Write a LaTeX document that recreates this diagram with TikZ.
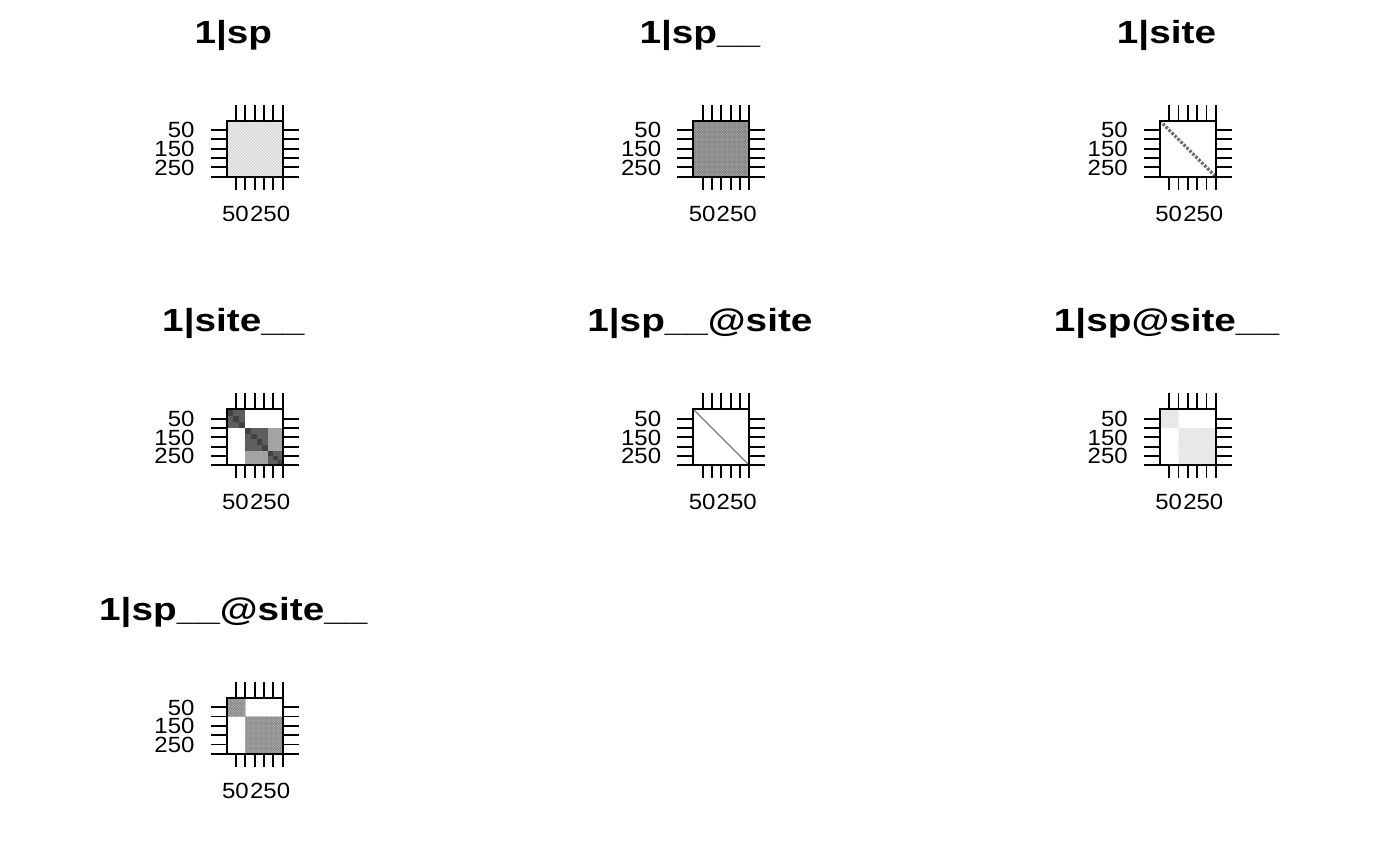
\documentclass[tikz,border=0pt]{standalone}
\usepackage{fontspec}
\setmainfont{Liberation Sans}
\usetikzlibrary{calc}

\newcommand{\ttlfont}{\fontsize{32}{36}\selectfont\bfseries}
\newcommand{\axfont}{\fontsize{22}{24}\selectfont}
\newcommand{\wide}[2]{\scalebox{#1}[1]{#2}}

\begin{document}
\begin{tikzpicture}[x=1pt, y=-1pt,
    ttl/.style={anchor=base, inner sep=0pt, font=\ttlfont},
    ylab/.style={anchor=base east, inner sep=0pt, font=\axfont},
    xlab/.style={anchor=base, inner sep=0pt, font=\axfont},
    frame/.style={line width=2pt},
    tk/.style={line width=1.8pt},
    faint/.style={line width=0.7pt, black!20},
    mesh/.style={line width=0.7pt, black!48}]
    \useasboundingbox (0,0) rectangle (1400,866);
    \fill [white]    (0,0) rectangle (1400,866);
    % panel corners
    \foreach \c/\r [count=\i] in {0/0,1/0,2/0,0/1,1/1,2/1,0/2}
      \coordinate (p\i) at ({226.7+466.6*\c},{120.7+288.6*\r});
    % 1|sp
    \begin{scope}[shift={(p1)}]
      \clip            (0,0) rectangle (56,56);
      \fill [black!6]  (0,0) rectangle (56,56);
      \foreach \d in {-57,-54,...,57} \draw [faint] (\d,0) -- ++(56,56);
    \end{scope}
    % 1|sp__
    \begin{scope}[shift={(p2)}]
      \clip            (0,0) rectangle (56,56);
      \fill [black!30] (0,0) rectangle (56,56);
      \foreach \d in {-57,-54.5,...,115} {
        \draw [mesh]   (\d,0) -- ++(56,56);
        \draw [mesh]   (\d,0) -- ++(-56,56);
      }
    \end{scope}
    % 1|site
    \begin{scope}[shift={(p3)}]
      \clip            (0,0) rectangle (56,56);
      \draw [black!58, line width=3.2pt, dash pattern=on 2.6pt off 1.6pt] (0,0) -- (56,56);
    \end{scope}
    % 1|site__
    \begin{scope}[shift={(p4)}]
      \fill [black!36] (41.3,18.7) rectangle (56,41.3);
      \fill [black!36] (18.7,41.3) rectangle (41.3,56);
      \fill [black!63] (0,0) rectangle (18.7,18.7);
      \fill [black!63] (18.7,18.7) rectangle (41.3,41.3);
      \fill [black!63] (41.3,41.3) rectangle (56,56);
      \foreach \s/\w in {0/6.2,6.2/6.2,12.5/6.2,18.7/5.65,24.35/5.65,30/5.65,35.65/5.65,41.3/4.9,46.2/4.9,51.1/4.9}
        \fill [black!74] (\s,\s) rectangle ++(\w,\w);
    \end{scope}
    % 1|sp__@site
    \begin{scope}[shift={(p5)}]
      \draw [black!50, line width=1.2pt] (0,0) -- (56,56);
    \end{scope}
    % 1|sp@site__
    \begin{scope}[shift={(p6)}]
      \clip            (0,0) rectangle (18.7,18.7) (18.7,18.7) rectangle (56,56);
      \fill [black!5]  (0,0) rectangle (56,56);
      \foreach \d in {-57,-54,...,57} \draw [faint, black!14] (\d,0) -- ++(56,56);
    \end{scope}
    % 1|sp__@site__
    \begin{scope}[shift={(p7)}]
      \clip            (0,0) rectangle (18.7,18.7) (18.7,18.7) rectangle (56,56);
      \fill [black!28] (0,0) rectangle (56,56);
      \foreach \d in {-57,-54.5,...,115} {
        \draw [mesh, black!45] (\d,0) -- ++(56,56);
        \draw [mesh, black!45] (\d,0) -- ++(-56,56);
      }
    \end{scope}
    % frames, ticks, labels and titles
    \foreach \c/\r/\name [count=\i] in {0/0/{1|sp}, 1/0/{1|sp\_\_}, 2/0/{1|site},
        0/1/{1|site\_\_}, 1/1/{1|sp\_\_@site}, 2/1/{1|sp@site\_\_}, 0/2/{1|sp\_\_@site\_\_}} {
      \begin{scope}[shift={(p\i)}]
        \draw [frame]  (0,0) rectangle (56,56);
        \foreach \k in {1,...,6} {
          \draw [tk]   (\k*9.333,0) -- ++(0,-16);
          \draw [tk]   (\k*9.333,56) -- ++(0,13);
          \draw [tk]   (0,\k*9.333) -- ++(-16,0);
          \draw [tk]   (56,\k*9.333) -- ++(16,0);
        }
        \node [ylab] (ya\i) at (-32,17.2) {\wide{1.09}{50}};
        \node [ylab] (yb\i) at (-32,35.9) {\wide{1.09}{150}};
        \node [ylab] (yc\i) at (-32,54.6) {\wide{1.09}{250}};
        \node [xlab] (xa\i) at (8.8,100.6)  {\wide{1.09}{50}};
        \node [xlab] (xb\i) at (43.4,100.6) {\wide{1.09}{250}};
      \end{scope}
      \node [ttl] (ttl\i) at ({233.3+466.6*\c},{43.3+288.6*\r}) {\wide{1.21}{\name}};
    }
  \end{tikzpicture}
\end{document}
